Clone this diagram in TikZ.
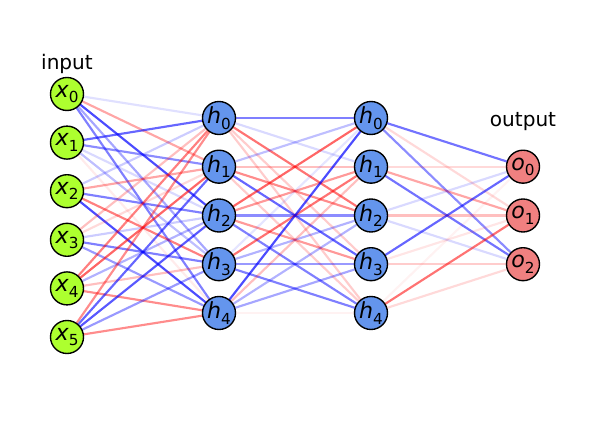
\documentclass[tikz,border=0pt]{standalone}
\usepackage{fontspec}
\setmainfont{DejaVu Sans}
\usetikzlibrary{backgrounds}
\definecolor{incol}{HTML}{ADFF2F}
\definecolor{hidcol}{HTML}{6495ED}
\definecolor{outcol}{HTML}{F08080}
\newcommand{\nlbl}[2]{\textit{#1}\raisebox{-0.45ex}{\fontsize{11}{11}\selectfont #2}}
\tikzset{
  unit/.style={circle, draw=black, line width=1pt, minimum size=0.33in, inner sep=0pt, font=\fontsize{16}{16}\selectfont},
  inunit/.style={unit, fill=incol},
  hidunit/.style={unit, fill=hidcol},
  outunit/.style={unit, fill=outcol},
  wred/.style={draw=red, draw opacity=#1, line width=1.55pt},
  wblue/.style={draw=blue, draw opacity=#1, line width=1.55pt},
}

\begin{document}
\begin{tikzpicture}[x=1in,y=1in]
\useasboundingbox (0,0) rectangle (6.14,4.29);
\node[inunit] (x0) at (0.67,3.350) {\nlbl{x}{0}};
\node[inunit] (x1) at (0.67,2.864) {\nlbl{x}{1}};
\node[inunit] (x2) at (0.67,2.378) {\nlbl{x}{2}};
\node[inunit] (x3) at (0.67,1.892) {\nlbl{x}{3}};
\node[inunit] (x4) at (0.67,1.406) {\nlbl{x}{4}};
\node[inunit] (x5) at (0.67,0.920) {\nlbl{x}{5}};
\node[hidunit] (ha0) at (2.19,3.110) {\nlbl{h}{0}};
\node[hidunit] (ha1) at (2.19,2.623) {\nlbl{h}{1}};
\node[hidunit] (ha2) at (2.19,2.135) {\nlbl{h}{2}};
\node[hidunit] (ha3) at (2.19,1.648) {\nlbl{h}{3}};
\node[hidunit] (ha4) at (2.19,1.160) {\nlbl{h}{4}};
\node[hidunit] (hb0) at (3.71,3.110) {\nlbl{h}{0}};
\node[hidunit] (hb1) at (3.71,2.623) {\nlbl{h}{1}};
\node[hidunit] (hb2) at (3.71,2.135) {\nlbl{h}{2}};
\node[hidunit] (hb3) at (3.71,1.648) {\nlbl{h}{3}};
\node[hidunit] (hb4) at (3.71,1.160) {\nlbl{h}{4}};
\node[outunit] (o0) at (5.23,2.623) {\nlbl{o}{0}};
\node[outunit] (o1) at (5.23,2.135) {\nlbl{o}{1}};
\node[outunit] (o2) at (5.23,1.648) {\nlbl{o}{2}};
\node[font=\fontsize{14.5}{17}\selectfont] (intitle) at (0.67,3.65) {input};
\node[font=\fontsize{14.5}{17}\selectfont] (outtitle) at (5.23,3.07) {output};
\begin{scope}[on background layer]
\draw[wblue=0.12] (x0.center) -- (ha0.center);
\draw[wred=0.35] (x0.center) -- (ha1.center);
\draw[wblue=0.7] (x0.center) -- (ha2.center);
\draw[wblue=0.35] (x0.center) -- (ha3.center);
\draw[wblue=0.5] (x0.center) -- (ha4.center);
\draw[wblue=0.6] (x1.center) -- (ha0.center);
\draw[wblue=0.45] (x1.center) -- (ha1.center);
\draw[wblue=0.15] (x1.center) -- (ha2.center);
\draw[wblue=0.25] (x1.center) -- (ha3.center);
\draw[wred=0.08] (x1.center) -- (ha4.center);
\draw[wblue=0.2] (x2.center) -- (ha0.center);
\draw[wred=0.35] (x2.center) -- (ha1.center);
\draw[wblue=0.5] (x2.center) -- (ha2.center);
\draw[wred=0.5] (x2.center) -- (ha3.center);
\draw[wblue=0.7] (x2.center) -- (ha4.center);
\draw[wred=0.25] (x3.center) -- (ha0.center);
\draw[wred=0.15] (x3.center) -- (ha1.center);
\draw[wblue=0.2] (x3.center) -- (ha2.center);
\draw[wblue=0.5] (x3.center) -- (ha3.center);
\draw[wblue=0.4] (x3.center) -- (ha4.center);
\draw[wred=0.5] (x4.center) -- (ha0.center);
\draw[wred=0.6] (x4.center) -- (ha1.center);
\draw[wblue=0.3] (x4.center) -- (ha2.center);
\draw[wred=0.25] (x4.center) -- (ha3.center);
\draw[wred=0.45] (x4.center) -- (ha4.center);
\draw[wred=0.45] (x5.center) -- (ha0.center);
\draw[wblue=0.6] (x5.center) -- (ha1.center);
\draw[wblue=0.65] (x5.center) -- (ha2.center);
\draw[wblue=0.4] (x5.center) -- (ha3.center);
\draw[wred=0.45] (x5.center) -- (ha4.center);
\draw[wblue=0.5] (ha0.center) -- (hb0.center);
\draw[wblue=0.15] (ha0.center) -- (hb1.center);
\draw[wred=0.55] (ha0.center) -- (hb2.center);
\draw[wred=0.2] (ha0.center) -- (hb3.center);
\draw[wred=0.2] (ha0.center) -- (hb4.center);
\draw[wblue=0.25] (ha1.center) -- (hb0.center);
\draw[wred=0.25] (ha1.center) -- (hb1.center);
\draw[wred=0.45] (ha1.center) -- (hb2.center);
\draw[wblue=0.6] (ha1.center) -- (hb3.center);
\draw[wred=0.2] (ha1.center) -- (hb4.center);
\draw[wred=0.6] (ha2.center) -- (hb0.center);
\draw[wred=0.4] (ha2.center) -- (hb1.center);
\draw[wblue=0.45] (ha2.center) -- (hb2.center);
\draw[wred=0.4] (ha2.center) -- (hb3.center);
\draw[wblue=0.5] (ha2.center) -- (hb4.center);
\draw[wblue=0.1] (ha3.center) -- (hb0.center);
\draw[wred=0.55] (ha3.center) -- (hb1.center);
\draw[wblue=0.3] (ha3.center) -- (hb2.center);
\draw[wblue=0.4] (ha3.center) -- (hb3.center);
\draw[wblue=0.5] (ha3.center) -- (hb4.center);
\draw[wblue=0.7] (ha4.center) -- (hb0.center);
\draw[wred=0.25] (ha4.center) -- (hb1.center);
\draw[wblue=0.3] (ha4.center) -- (hb2.center);
\draw[wblue=0.35] (ha4.center) -- (hb3.center);
\draw[wred=0.05] (ha4.center) -- (hb4.center);
\draw[wblue=0.55] (hb0.center) -- (o0.center);
\draw[wred=0.15] (hb0.center) -- (o1.center);
\draw[wblue=0.45] (hb0.center) -- (o2.center);
\draw[wred=0.15] (hb1.center) -- (o0.center);
\draw[wred=0.35] (hb1.center) -- (o1.center);
\draw[wblue=0.55] (hb1.center) -- (o2.center);
\draw[wblue=0.15] (hb2.center) -- (o0.center);
\draw[wred=0.25] (hb2.center) -- (o1.center);
\draw[wblue=0.15] (hb2.center) -- (o2.center);
\draw[wblue=0.6] (hb3.center) -- (o0.center);
\draw[wred=0.1] (hb3.center) -- (o1.center);
\draw[wred=0.2] (hb3.center) -- (o2.center);
\draw[wred=0.05] (hb4.center) -- (o0.center);
\draw[wred=0.55] (hb4.center) -- (o1.center);
\draw[wred=0.15] (hb4.center) -- (o2.center);
\end{scope}
\end{tikzpicture}
\end{document}
